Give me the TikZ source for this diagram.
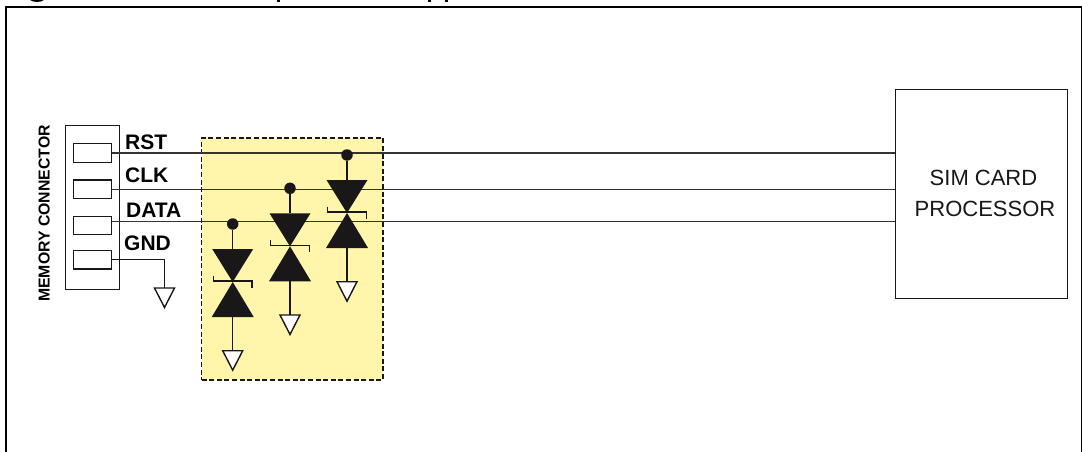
\documentclass[tikz,border=0pt]{standalone}
\usepackage{fontspec}
\setmainfont{Liberation Sans}
\usetikzlibrary{calc}
\definecolor{wireg}{HTML}{333333}
\definecolor{panelyellow}{HTML}{FFF6AB}
\definecolor{inkb}{HTML}{1A1718}
\tikzset{
  boxline/.style={draw=inkb,line width=1.1pt,fill=white,inner sep=0pt,minimum width=0pt},
  wire/.style={draw=wireg,line width=1.15pt},
  stem/.style={draw=inkb,line width=1.5pt},
  pin/.style={boxline,minimum width=37.4pt,minimum height=18.4pt,anchor=north west},
  lbl/.style={font=\fontsize{21}{24}\selectfont\bfseries,text=black,inner sep=0pt,anchor=base west},
  tvsdot/.style={circle,fill=inkb,inner sep=0pt,minimum size=11.5pt},
  gndtri/.style={draw=inkb,line width=1.4pt,fill=white,line join=miter},
}
\begin{document}
\begin{tikzpicture}[x=1pt,y=-1pt]
\useasboundingbox (0,0) rectangle (1082,452);
% outer frame (open at the bottom, cut by the page)
\draw[black,line width=2.4pt] (6.2,452) -- (6.2,6.8) -- (1081.4,6.8);
\draw[black,line width=1.6pt] (1081.4,6) -- (1081.4,452);
% cut descenders of the title
\fill[black] (30,0) .. controls (33,2.6) and (41,2.6) .. (44,0) -- cycle;
\fill[black] (277,0) rectangle (280,2);
\fill[black] (428,0) rectangle (431,2);
\fill[black] (445,0) rectangle (448,2);
% yellow panel
\node[draw=inkb,fill=panelyellow,dash pattern=on 5pt off 2.6pt,line width=1.7pt,inner sep=0pt,minimum width=181.3pt,minimum height=242pt,anchor=north west] (panel) at (200.7,137.3) {};
% memory connector
\node[boxline,minimum width=54.3pt,minimum height=163.7pt,anchor=north west] (conn) at (65,125) {};
\node[pin] (p1) at (73.3,143.3) {};
\node[pin] (p2) at (73.3,179.4) {};
\node[pin] (p3) at (73.3,215.7) {};
\node[pin] (p4) at (73.3,250) {};
\node[rotate=90,anchor=base,inner sep=0pt,text=black,font=\fontsize{15.8}{18}\selectfont\bfseries] (mc) at (49.5,213.5) {MEMORY CONNECTOR};
\node[lbl] (rst) at (125,149) {RST};
\node[lbl] (clk) at (125,182.7) {CLK};
\node[lbl] (dat) at (126,217) {DATA};
\node[lbl] (gnd) at (124,250) {GND};
% processor
\node[boxline,minimum width=172.5pt,minimum height=209pt,anchor=north west] (cpu) at (894.5,89) {};
\node[inner sep=0pt,anchor=base,text=inkb,font=\fontsize{22}{24}\selectfont] (t1) at (983.5,185) {SIM CARD};
\node[inner sep=0pt,anchor=base,text=inkb,font=\fontsize{22}{24}\selectfont] (t2) at (985,216) {PROCESSOR};
% wires
\draw[wire] (p1.east) -- (p1.east -| cpu.west);
\draw[wire] (p2.east) -- (p2.east -| cpu.west);
\coordinate (d0) at (p3.east |- 0,221.7);
\draw[wire,line width=1.3pt] (d0) -- (d0 -| cpu.west);
% GND of the connector
\coordinate (gtop) at (164.5,288);
\draw[stem,line width=1.2pt] (p4.east) -| (gtop);
\draw[gndtri] (gtop) ++(-10,0) -- ++(20,0) -- ++(-10,19.5) -- cycle;
% protection devices
\foreach \i/\x/\d in {1/347/0,2/290/33.3,3/232.7/69}{
  \node[tvsdot] (dot\i) at (\x,155+\d) {};
  \coordinate (top\i) at (\x,180+\d);
  \coordinate (mid\i) at (\x,213+\d);
  \coordinate (bot\i) at (\x,248+\d);
  \coordinate (gt\i) at (\x,281.7+\d);
  \draw[stem,line width=1.2pt] (dot\i) -- (top\i);
  \fill[inkb] ($(top\i)+(-20.5,0)$) -- ($(top\i)+(20.5,0)$) -- (mid\i) -- cycle;
  \fill[inkb] ($(bot\i)+(-21,0)$) -- ($(bot\i)+(21,0)$) -- (mid\i) -- cycle;
  \draw[inkb,line width=1.5pt,line cap=butt] ($(mid\i)+(-19.3,-6.5)$) -- ($(mid\i)+(-19.3,-0.8)$) -- ($(mid\i)+(19.3,-0.8)$) -- ($(mid\i)+(19.3,5.5)$);
  \draw[stem] (bot\i) -- (gt\i);
  \draw[gndtri] (gt\i) ++(-10,0) -- ++(20,0) -- ++(-10,19.5) -- cycle;
}
\end{tikzpicture}
\end{document}
